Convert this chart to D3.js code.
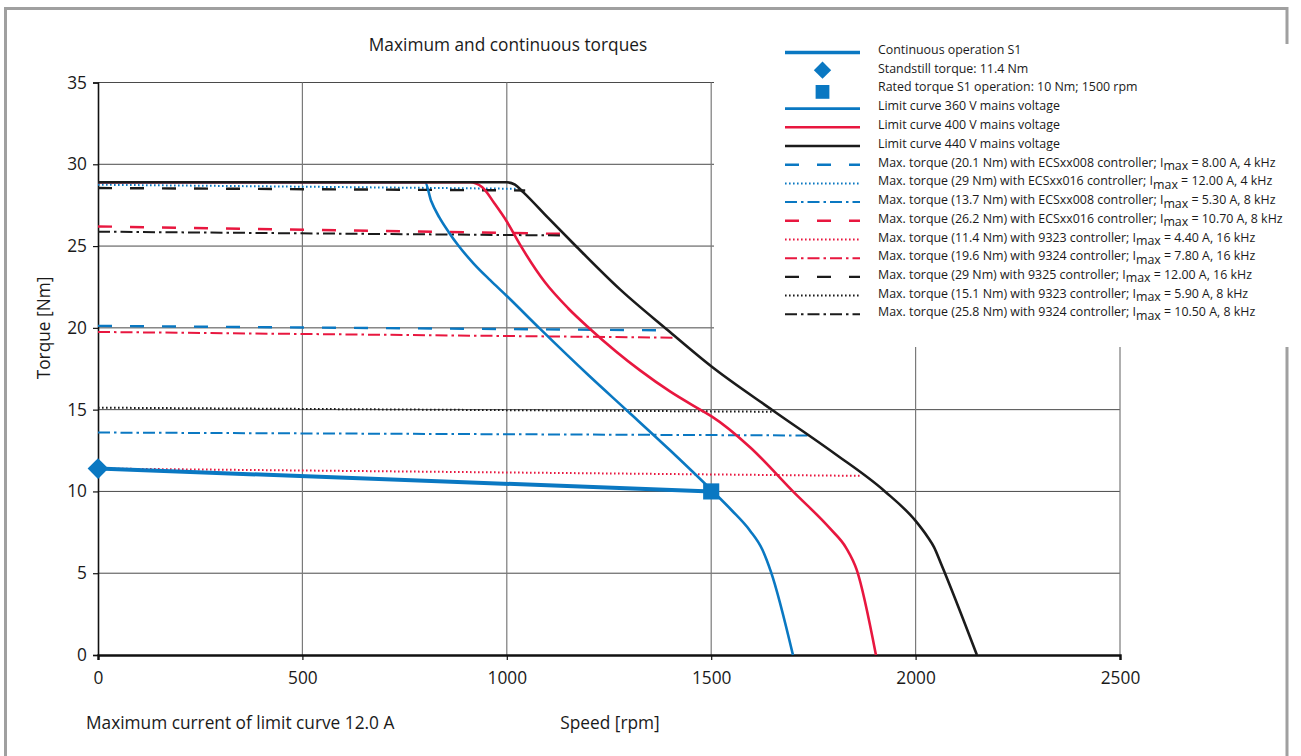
<!DOCTYPE html>
<html><head><meta charset="utf-8">
<script src="https://cdn.jsdelivr.net/npm/d3@7"></script>
<style>
html,body{margin:0;padding:0;background:#fff;}
svg{display:block;font-family:"Open Sans","Noto Sans",sans-serif;}
</style></head>
<body><svg id="c" width="1301" height="756"></svg>
<script>
// ---------------- data ----------------
const speedTicks = [0, 500, 1000, 1500, 2000, 2500];
const torqueTicks = [0, 5, 10, 15, 20, 25, 30, 35];

// continuous operation S1
const s1Speed = [0, 1500];
const s1Torque = [11.4, 10.0];
const standstillPoint = [0, 11.4];
const ratedPoint = [1500, 10.0];

// limit curves
const curve360Speed = [0, 800, 815, 835, 858, 881, 920, 960, 1000, 1081, 1200, 1296, 1400, 1500, 1550, 1595, 1625, 1646, 1700];
const curve360Torque = [28.9, 28.9, 27.75, 26.75, 25.85, 25.05, 23.9, 22.9, 21.95, 19.95, 17.1, 14.9, 12.5, 10.1, 8.85, 7.6, 6.45, 5.1, 0];
const curve400Speed = [0, 910, 940, 970, 1000, 1032, 1093, 1150, 1203, 1326, 1400, 1473, 1500, 1595, 1700, 1790, 1830, 1856, 1903];
const curve400Torque = [28.9, 28.9, 28.6, 27.6, 26.5, 25.1, 22.8, 21.2, 19.95, 17.4, 16.1, 15.0, 14.6, 12.7, 10.0, 7.75, 6.55, 5.2, 0];
const curve440Speed = [0, 1000, 1020, 1040, 1100, 1167, 1277, 1394, 1500, 1651, 1800, 1925, 2000, 2030, 2045, 2062, 2150];
const curve440Torque = [28.9, 28.9, 28.75, 28.3, 26.75, 25.05, 22.35, 19.85, 17.65, 14.95, 12.35, 10.0, 8.2, 7.2, 6.6, 5.6, 0];

// max torque lines of controllers (start torque at 0 rpm, end torque, end speed)
const maxLabels = [
  ["Max. torque (20.1 Nm) with ECSxx008 controller; I", " = 8.00 A, 4 kHz"],
  ["Max. torque (29 Nm) with ECSxx016 controller; I", " = 12.00 A, 4 kHz"],
  ["Max. torque (13.7 Nm) with ECSxx008 controller; I", " = 5.30 A, 8 kHz"],
  ["Max. torque (26.2 Nm) with ECSxx016 controller; I", " = 10.70 A, 8 kHz"],
  ["Max. torque (11.4 Nm) with 9323 controller; I", " = 4.40 A, 16 kHz"],
  ["Max. torque (19.6 Nm) with 9324 controller; I", " = 7.80 A, 16 kHz"],
  ["Max. torque (29 Nm) with 9325 controller; I", " = 12.00 A, 16 kHz"],
  ["Max. torque (15.1 Nm) with 9323 controller; I", " = 5.90 A, 8 kHz"],
  ["Max. torque (25.8 Nm) with 9324 controller; I", " = 10.50 A, 8 kHz"]
];
const maxStartTorque = [20.12, 28.75, 13.6, 26.2, 11.4, 19.75, 28.55, 15.12, 25.88];
const maxEndTorque   = [19.85, 28.5, 13.42, 25.75, 10.95, 19.4, 28.4, 14.87, 25.65];
const maxEndSpeed    = [1380, 1035, 1737, 1130, 1868, 1410, 1045, 1660, 1130];

const otherLabels = [
  "Continuous operation S1",
  "Standstill torque: 11.4 Nm",
  "Rated torque S1 operation: 10 Nm; 1500 rpm",
  "Limit curve 360 V mains voltage",
  "Limit curve 400 V mains voltage",
  "Limit curve 440 V mains voltage"
];

// ---------------- styles ----------------
const BLUE = "#0a78c2", RED = "#e8173f", BLACK = "#1b1b1b";
const DASH = "14,18", DOT = "1.6,2.4", DASHDOT = "12,4,2.5,4";
const maxStyles = [
  {c: BLUE, d: DASH, w: 2.4},
  {c: BLUE, d: DOT, w: 2},
  {c: BLUE, d: DASHDOT, w: 2},
  {c: RED, d: DASH, w: 2.4},
  {c: RED, d: DOT, w: 2},
  {c: RED, d: DASHDOT, w: 2},
  {c: BLACK, d: DASH, w: 2.4},
  {c: BLACK, d: DOT, w: 2},
  {c: BLACK, d: DASHDOT, w: 2}
];
const FS = 17.3;

// ---------------- drawing ----------------
const svg = d3.select("#c");
const x = d3.scaleLinear().domain([0, 2500]).range([98, 1120]);
const y = d3.scaleLinear().domain([0, 35]).range([655, 82.5]);

// frame
svg.append("path").attr("d", "M5.5,760 V8.5 H1287 V760")
  .attr("fill", "none").attr("stroke", "#a0a0a0").attr("stroke-width", 3);

// grid
const g = svg.append("g");
g.selectAll(".hg").data(torqueTicks.filter(d => d > 0)).enter().append("line")
  .attr("x1", x(0)).attr("x2", x(2500)).attr("y1", d => y(d)).attr("y2", d => y(d))
  .attr("stroke", "#4a4a4a").attr("stroke-width", 1);
g.selectAll(".vg").data(speedTicks.filter(d => d > 0)).enter().append("line")
  .attr("x1", d => x(d)).attr("x2", d => x(d)).attr("y1", y(35)).attr("y2", y(0))
  .attr("stroke", "#7a7a7a").attr("stroke-width", 1.2);

// axes
const yAxis = svg.append("g").attr("transform", `translate(${x(0)},0)`)
  .call(d3.axisLeft(y).tickValues(torqueTicks).tickFormat(d3.format("d")).tickSize(5).tickPadding(6));
yAxis.select(".domain").attr("stroke", "#111").attr("stroke-width", 1.6);
yAxis.selectAll(".tick line").attr("stroke", "#111").attr("stroke-width", 1.2);
yAxis.selectAll("text").attr("font-size", FS).attr("fill", "#1a1a1a")
  .attr("font-family", "'Open Sans',sans-serif");

const xAxis = svg.append("g").attr("transform", `translate(0,${y(0)})`)
  .call(d3.axisBottom(x).tickValues(speedTicks).tickFormat(d3.format("d")).tickSize(5).tickPadding(12));
xAxis.select(".domain").attr("stroke", "#111").attr("stroke-width", 2.4);
xAxis.selectAll(".tick line").attr("stroke", "#111").attr("stroke-width", 1.2);
xAxis.selectAll("text").attr("font-size", FS).attr("fill", "#1a1a1a")
  .attr("font-family", "'Open Sans',sans-serif");

// max torque lines
const maxData = maxStartTorque.map((t, i) => [[0, t], [maxEndSpeed[i], maxEndTorque[i]]]);
const lineGen = d3.line().x(d => x(d[0])).y(d => y(d[1]));
svg.append("g").selectAll("path").data(maxData).enter().append("path")
  .attr("d", lineGen).attr("fill", "none")
  .attr("stroke", (d, i) => maxStyles[i].c)
  .attr("stroke-width", (d, i) => maxStyles[i].w)
  .attr("stroke-dasharray", (d, i) => maxStyles[i].d);

// limit curves
const curveGen = d3.line().x(d => x(d[0])).y(d => y(d[1])).curve(d3.curveMonotoneX);
const curves = [
  {s: curve360Speed, t: curve360Torque, c: BLUE},
  {s: curve400Speed, t: curve400Torque, c: RED},
  {s: curve440Speed, t: curve440Torque, c: BLACK}
];
svg.append("g").selectAll("path").data(curves).enter().append("path")
  .attr("d", d => curveGen(d.s.map((v, i) => [v, d.t[i]])))
  .attr("fill", "none").attr("stroke", d => d.c).attr("stroke-width", 2.6);

// continuous S1
svg.append("path").attr("d", lineGen(s1Speed.map((v, i) => [v, s1Torque[i]])))
  .attr("fill", "none").attr("stroke", BLUE).attr("stroke-width", 4);
svg.append("path").attr("d", d3.symbol().type(d3.symbolSquare).size(215)())
  .attr("transform", `translate(${x(standstillPoint[0])},${y(standstillPoint[1])}) rotate(45)`)
  .attr("fill", BLUE);
svg.append("path").attr("d", d3.symbol().type(d3.symbolSquare).size(260)())
  .attr("transform", `translate(${x(ratedPoint[0])},${y(ratedPoint[1])})`)
  .attr("fill", BLUE);

// titles
svg.append("text").attr("x", 508).attr("y", 44).attr("text-anchor", "middle")
  .attr("dominant-baseline", "central").attr("font-size", FS).attr("fill", "#1a1a1a")
  .text("Maximum and continuous torques");
svg.append("text").attr("transform", "translate(43,328) rotate(-90)").attr("text-anchor", "middle")
  .attr("dominant-baseline", "central").attr("font-size", FS).attr("fill", "#1a1a1a")
  .text("Torque [Nm]");
svg.append("text").attr("x", 610).attr("y", 722).attr("text-anchor", "middle")
  .attr("dominant-baseline", "central").attr("font-size", FS).attr("fill", "#1a1a1a")
  .text("Speed [rpm]");
svg.append("text").attr("x", 86).attr("y", 722)
  .attr("dominant-baseline", "central").attr("font-size", FS).attr("fill", "#1a1a1a")
  .text("Maximum current of limit curve 12.0 A");

// legend
const lg = svg.append("g");
lg.append("rect").attr("x", 714).attr("y", 44).attr("width", 582).attr("height", 303).attr("fill", "#fff");
const rowY = i => 49.5 + i * 18.7;
const sx1 = 785, sx2 = 860, tx = 878, fs = 12.4;
lg.append("line").attr("x1", sx1).attr("x2", sx2).attr("y1", rowY(0) + 3).attr("y2", rowY(0) + 3)
  .attr("stroke", BLUE).attr("stroke-width", 3.6);
lg.append("path").attr("d", d3.symbol().type(d3.symbolSquare).size(150)())
  .attr("transform", `translate(${(sx1 + sx2) / 2},${rowY(1) + 2}) rotate(45)`).attr("fill", BLUE);
lg.append("path").attr("d", d3.symbol().type(d3.symbolSquare).size(190)())
  .attr("transform", `translate(${(sx1 + sx2) / 2},${rowY(2) + 5})`).attr("fill", BLUE);
[BLUE, RED, BLACK].forEach((c, i) => {
  lg.append("line").attr("x1", sx1).attr("x2", sx2).attr("y1", rowY(3 + i) + 3).attr("y2", rowY(3 + i) + 3)
    .attr("stroke", c).attr("stroke-width", 2.6);
});
otherLabels.forEach((t, i) => {
  lg.append("text").attr("x", tx).attr("y", rowY(i)).attr("dominant-baseline", "central")
    .attr("font-size", fs).attr("fill", "#1a1a1a").text(t);
});
maxLabels.forEach((lab, i) => {
  const ry = rowY(6 + i);
  lg.append("line").attr("x1", sx1).attr("x2", sx2).attr("y1", ry + 3).attr("y2", ry + 3)
    .attr("stroke", maxStyles[i].c).attr("stroke-width", maxStyles[i].w)
    .attr("stroke-dasharray", maxStyles[i].d);
  const t = lg.append("text").attr("x", tx).attr("y", ry).attr("dominant-baseline", "central")
    .attr("font-size", fs).attr("fill", "#1a1a1a");
  t.append("tspan").text(lab[0]);
  t.append("tspan").attr("dy", 3.5).text("max");
  t.append("tspan").attr("dy", -3.5).text(lab[1]);
});
</script></body></html>
